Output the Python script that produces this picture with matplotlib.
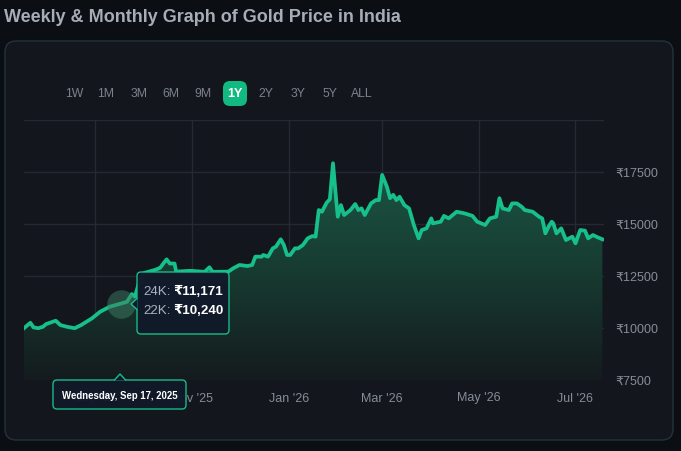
import datetime as dt
import matplotlib
matplotlib.use('Agg')
import matplotlib.pyplot as plt
import matplotlib.dates as mdates
import numpy as np
from matplotlib.patches import FancyBboxPatch, Polygon
from matplotlib.colors import LinearSegmentedColormap

plt.rcParams['font.family'] = ['Liberation Sans', 'DejaVu Sans']

# data (24K price per gram, 1Y view)
start_date = dt.date(2025, 7, 18)
day_offsets = [0, 4, 6, 9, 12, 14, 20, 23, 27, 32, 36, 43, 48, 54, 61, 65, 68, 70, 73, 76,
               83, 86, 88, 90, 92, 95, 96, 105, 114, 117, 119, 129, 132, 136, 141, 144, 146, 150,
               151, 154, 157, 159, 162, 164, 166, 168, 171, 173, 176, 179, 182, 184, 186, 188,
               191, 193, 195, 197, 198, 200, 202, 206, 209, 211, 213, 215, 219, 222, 224, 226,
               229, 231, 233, 235, 237, 240, 243, 246, 249, 251, 254, 257, 258, 263, 265, 268,
               273, 278, 283, 286, 291, 294, 298, 300, 302, 306, 308, 311, 314, 316, 321, 325,
               327, 329, 331, 333, 334, 336, 339, 342, 346, 348, 351, 354, 356, 359, 362, 365]
prices_24k = [9990, 10250, 10030, 9990, 10060, 10190, 10350, 10140, 10060, 9990, 10140, 10470,
              10780, 11020, 11171, 11260, 11630, 11500, 12300, 12650, 12800, 12900, 13110, 13300,
              13100, 13100, 12710, 12750, 12700, 12920, 12700, 12710, 12870, 13030, 12980, 13030,
              13430, 13430, 13510, 13430, 13830, 13910, 14265, 13990, 13510, 13510, 13830, 13830,
              13990, 14310, 14420, 14390, 15670, 15590, 16025, 16190, 17920, 16150, 15350, 15910,
              15430, 15670, 15960, 15670, 15750, 15430, 15990, 16150, 16150, 17360, 16790, 16240,
              16400, 16150, 16310, 15910, 15750, 14950, 14310, 14710, 14790, 15270, 15030, 15110,
              15390, 15270, 15590, 15510, 15390, 15110, 14950, 15270, 15350, 16240, 15750, 15670,
              15990, 15990, 15830, 15670, 15590, 15350, 15270, 14550, 14870, 15110, 15030, 14550,
              14790, 14230, 14390, 14070, 14710, 14680, 14310, 14470, 14360, 14265]

range_buttons = ['1W', '1M', '3M', '6M', '9M', '1Y', '2Y', '3Y', '5Y', 'ALL']
active_range = '1Y'
month_ticks = ['2025-09-01', '2025-11-01', '2026-01-01', '2026-03-01', '2026-05-01', '2026-07-01']
month_labels = ["Sep '25", "Nov '25", "Jan '26", "Mar '26", "May '26", "Jul '26"]
price_ticks = [7500, 10000, 12500, 15000, 17500]
hover_date = '2025-09-17'
hover_24k = 11171
hover_22k = 10240

PAGE = '#0b0e13'
CARD = '#13161d'
GREEN = '#17c08a'
GRID = '#252a32'
MUTED = '#868d97'

W, H = 681, 451
fig = plt.figure(figsize=(W / 100, H / 100), dpi=100, facecolor=PAGE)

# background layer: title, card, range buttons
bg = fig.add_axes([0, 0, 1, 1], zorder=0)
bg.set_xlim(0, W)
bg.set_ylim(H, 0)
bg.axis('off')
bg.add_patch(FancyBboxPatch((5, 41), 668, 399, boxstyle='round,pad=0,rounding_size=11',
                            fc=CARD, ec='#22353a', lw=1))
bg.text(4, 18, 'Weekly & Monthly Graph of Gold Price in India', fontsize=13,
        fontweight='bold', color='#a6adb7', va='center', ha='left')

btn_x = [74, 106, 139, 171, 203, 235, 266, 298, 330, 362]
for bx, lab in zip(btn_x, range_buttons):
    if lab == active_range:
        bg.add_patch(FancyBboxPatch((bx - 12, 81), 24, 25,
                                    boxstyle='round,pad=0,rounding_size=7',
                                    fc='#12b981', ec='none'))
        bg.text(bx, 94, lab, fontsize=9, fontweight='bold', color='white',
                ha='center', va='center')
    else:
        bg.text(bx, 94, lab, fontsize=8.8, color='#7b828c', ha='center', va='center')

# main chart
ax = fig.add_axes([24 / W, 1 - 380 / H, 580 / W, 260 / H], zorder=1)
ax.set_facecolor('none')
dates = [start_date + dt.timedelta(days=d) for d in day_offsets]
x = mdates.date2num(dates)
x0 = mdates.date2num(start_date)
x1 = x0 + 366

for s in ax.spines.values():
    s.set_visible(False)

for yv in price_ticks + [20000]:
    ax.axhline(yv, color=GRID, lw=1, zorder=0)
tick_nums = [mdates.date2num(dt.date.fromisoformat(t)) for t in month_ticks]
for tv in tick_nums:
    ax.axvline(tv, color=GRID, lw=1, zorder=0)

ax.set_xticks(tick_nums)
ax.set_xticklabels(month_labels)
ax.set_yticks(price_ticks)
ax.set_yticklabels(['₹%d' % p for p in price_ticks])
ax.yaxis.tick_right()
ax.tick_params(axis='both', length=0, colors=MUTED, labelsize=9)
ax.tick_params(axis='x', pad=9)
ax.tick_params(axis='y', pad=8)

fill = ax.fill_between(x, prices_24k, 7500, color='none', lw=0)
grad = np.linspace(0, 1, 256).reshape(-1, 1)
cmap = LinearSegmentedColormap.from_list('gold', ['#141b1e', '#173b31', '#1b5744'])
im = ax.imshow(grad, extent=[x0, x1, 7500, 18000], origin='lower', aspect='auto',
               cmap=cmap, zorder=1, interpolation='bicubic')
im.set_clip_path(fill.get_paths()[0], transform=ax.transData)
ax.set_xlim(x0, x1)
ax.set_ylim(7500, 20000)

ax.plot(x, prices_24k, color=GREEN, lw=2.7, zorder=3, solid_joinstyle='round')
hx = mdates.date2num(dt.date.fromisoformat(hover_date))
ax.scatter([hx], [hover_24k], s=420, color='#3d7d62', alpha=0.5, lw=0, zorder=4)

# tooltips on top
ov = fig.add_axes([0, 0, 1, 1], zorder=2)
ov.set_xlim(0, W)
ov.set_ylim(H, 0)
ov.axis('off')
TIP = '#111a2a'


def tooltip(x, y, w, h, notch):
    ov.add_patch(FancyBboxPatch((x, y), w, h, boxstyle='round,pad=0,rounding_size=4',
                                fc=TIP, ec=GREEN, lw=1, alpha=0.97))
    ov.add_patch(Polygon(notch, closed=False, fc=TIP, ec=GREEN, lw=1))


tooltip(137, 272, 92, 62, [(137.5, 298), (131, 304), (137.5, 310)])
tooltip(53, 380, 133, 29, [(114, 380.5), (120, 374), (126, 380.5)])

ov.text(143, 292, '24K:', fontsize=9.6, color='#aab2c0', va='center', ha='left')
ov.text(173, 292, '₹%s' % format(hover_24k, ','), fontsize=9.6, color='white',
        fontweight='bold', va='center', ha='left')
ov.text(143, 311, '22K:', fontsize=9.6, color='#aab2c0', va='center', ha='left')
ov.text(173, 311, '₹%s' % format(hover_22k, ','), fontsize=9.6, color='white',
        fontweight='bold', va='center', ha='left')
hd = dt.date.fromisoformat(hover_date)
ov.text(119.5, 396, hd.strftime('%A, %b %d, %Y'), fontsize=6.9, color='white',
        fontweight='bold', va='center', ha='center')

fig.savefig('out.png', dpi=100, facecolor=PAGE)
